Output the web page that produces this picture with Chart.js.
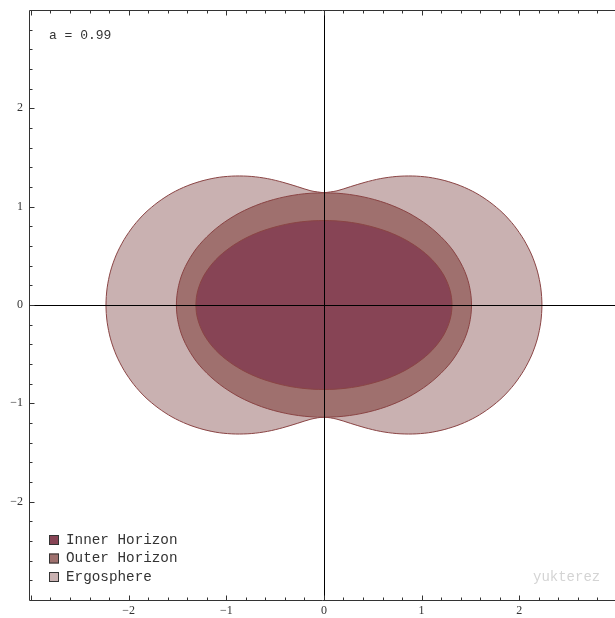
<!DOCTYPE html>
<html>
<head>
<meta charset="utf-8">
<script src="https://cdn.jsdelivr.net/npm/chart.js@4/dist/chart.umd.min.js"></script>
<style>
  body { margin: 0; background: #fff; }
  #wrap { width: 615px; height: 618px; }
</style>
</head>
<body>
<div id="wrap"><canvas id="kerr" width="615" height="618"></canvas></div>
<script>
// outlines, one quadrant each (x >= 0, z >= 0), top -> right
const ergoX  = [0, 0.133, 0.273, 0.421, 0.577, 0.739, 0.905, 1.072, 1.238, 1.400, 1.555, 1.699, 1.832, 1.948, 2.047, 2.127, 2.185, 2.220, 2.232];
const ergoZ  = [1.141, 1.161, 1.204, 1.248, 1.285, 1.307, 1.312, 1.299, 1.265, 1.212, 1.139, 1.046, 0.935, 0.807, 0.664, 0.509, 0.345, 0.174, 0];
const outerX = [0, 0.132, 0.262, 0.391, 0.517, 0.639, 0.756, 0.867, 0.971, 1.068, 1.157, 1.238, 1.309, 1.369, 1.420, 1.460, 1.488, 1.505, 1.511];
const outerZ = [1.141, 1.137, 1.124, 1.102, 1.072, 1.034, 0.988, 0.935, 0.874, 0.807, 0.733, 0.654, 0.571, 0.482, 0.390, 0.295, 0.198, 0.099, 0];
const innerX = [0, 0.114, 0.228, 0.339, 0.448, 0.554, 0.656, 0.752, 0.843, 0.927, 1.004, 1.074, 1.135, 1.188, 1.232, 1.266, 1.291, 1.306, 1.311];
const innerZ = [0.859, 0.856, 0.846, 0.830, 0.807, 0.778, 0.744, 0.704, 0.658, 0.607, 0.552, 0.493, 0.430, 0.363, 0.294, 0.222, 0.149, 0.075, 0];

const seriesNames = ['Inner Horizon', 'Outer Horizon', 'Ergosphere'];
const majorTicks = [-2, -1, 0, 1, 2];
const minorStep = 0.2;
const paramLabel = 'a = 0.99';
const watermark = 'yukterez';

const fillColors = ['#874455', '#9f706e', '#c9b1b1'];
const edgeColor = '#8a4444';

// close a quadrant into a full loop using the up/down and left/right symmetry
function mirrorLoop(xs, zs) {
    const n = xs.length;
    const pts = [];
    for (let i = 0; i < n; i++) pts.push({ x: xs[i], y: zs[i] });
    for (let i = n - 2; i >= 0; i--) pts.push({ x: xs[i], y: -zs[i] });
    for (let i = 1; i < n; i++) pts.push({ x: -xs[i], y: -zs[i] });
    for (let i = n - 2; i >= 0; i--) pts.push({ x: -xs[i], y: zs[i] });
    return pts;
}

const loops = [mirrorLoop(innerX, innerZ), mirrorLoop(outerX, outerZ), mirrorLoop(ergoX, ergoZ)];

function fmt(v) {
    return v < 0 ? '\u2212' + Math.abs(v) : String(v);
}

// axes through the origin, the frame and the inward ticks
const axesPlugin = {
    id: 'axesPlugin',
    afterDatasetsDraw(chart) {
        const ctx = chart.ctx;
        const xs = chart.scales.x, ys = chart.scales.y;
        const a = chart.chartArea;
        ctx.save();
        ctx.strokeStyle = '#000';
        ctx.lineWidth = 1;

        const x0 = Math.round(xs.getPixelForValue(0)) + 0.5;
        const y0 = Math.round(ys.getPixelForValue(0)) + 0.5;
        ctx.beginPath();
        ctx.moveTo(x0, a.top); ctx.lineTo(x0, a.bottom);
        ctx.moveTo(a.left, y0); ctx.lineTo(a.right, y0);
        ctx.stroke();

        const L = Math.round(a.left) + 0.5, B = Math.round(a.bottom) + 0.5, T = Math.round(a.top) + 0.5;
        ctx.strokeStyle = '#333';
        ctx.beginPath();
        ctx.moveTo(L, T); ctx.lineTo(L, B); ctx.lineTo(a.right, B);
        ctx.moveTo(L, T); ctx.lineTo(a.right, T);
        ctx.stroke();

        ctx.beginPath();
        for (let k = -15; k <= 15; k++) {
            const v = k * minorStep;
            const len = (k % 5 === 0) ? 5 : 3;
            const px = Math.round(xs.getPixelForValue(v)) + 0.5;
            if (px > a.left + 1 && px < a.right) {
                ctx.moveTo(px, B); ctx.lineTo(px, B - len);
                ctx.moveTo(px, T); ctx.lineTo(px, T + len);
            }
            const py = Math.round(ys.getPixelForValue(v)) + 0.5;
            if (py > a.top + 1 && py < a.bottom - 1) {
                ctx.moveTo(L, py); ctx.lineTo(L + len, py);
            }
        }
        ctx.stroke();
        ctx.restore();
    },
    afterDraw(chart) {
        const ctx = chart.ctx;
        const a = chart.chartArea;
        ctx.save();
        ctx.textBaseline = 'middle';
        ctx.fillStyle = '#333';
        ctx.font = '13px "Liberation Mono", monospace';
        ctx.fillText(paramLabel, a.left + 20, a.top + 26);

        // legend, bottom left
        ctx.font = '14.3px "Liberation Mono", monospace';
        seriesNames.forEach((name, i) => {
            const y = a.bottom - 60 + i * 18.5;
            ctx.fillStyle = fillColors[i];
            ctx.fillRect(a.left + 20, y - 5, 10, 10);
            ctx.strokeStyle = '#333';
            ctx.lineWidth = 1;
            ctx.strokeRect(a.left + 20.5, y - 4.5, 9, 9);
            ctx.fillStyle = '#333';
            ctx.fillText(name, a.left + 37, y);
        });

        ctx.font = '14px "Liberation Mono", monospace';
        ctx.fillStyle = '#d4d4d4';
        ctx.fillText(watermark, a.right - 82, a.bottom - 23);
        ctx.restore();
    }
};

new Chart(document.getElementById('kerr'), {
    type: 'scatter',
    data: {
        datasets: seriesNames.map((name, i) => ({
            label: name,
            data: loops[i],
            showLine: true,
            fill: 'shape',
            backgroundColor: fillColors[i],
            borderColor: edgeColor,
            borderWidth: 1,
            pointRadius: 0,
            tension: 0.3
        }))
    },
    options: {
        responsive: false,
        animation: false,
        layout: { padding: { top: 10, right: 0, left: 0, bottom: 0 } },
        plugins: {
            legend: { display: false },
            tooltip: { enabled: false }
        },
        scales: {
            x: {
                type: 'linear',
                min: -3.02,
                max: 2.98,
                grid: { display: false, drawTicks: false },
                border: { display: false },
                afterBuildTicks: s => { s.ticks = majorTicks.map(v => ({ value: v })); },
                afterFit: s => { s.height = 18; s.paddingLeft = 0; s.paddingRight = 0; },
                ticks: {
                    padding: 4,
                    color: '#333',
                    font: { family: '"Liberation Serif", serif', size: 12 },
                    callback: v => fmt(v)
                }
            },
            y: {
                type: 'linear',
                min: -3,
                max: 3,
                grid: { display: false, drawTicks: false },
                border: { display: false },
                afterBuildTicks: s => { s.ticks = majorTicks.map(v => ({ value: v })); },
                afterFit: s => { s.width = 29; s.paddingTop = 0; s.paddingBottom = 0; },
                ticks: {
                    padding: 6,
                    color: '#333',
                    font: { family: '"Liberation Serif", serif', size: 12 },
                    callback: v => fmt(v)
                }
            }
        }
    },
    plugins: [axesPlugin]
});
</script>
</body>
</html>
